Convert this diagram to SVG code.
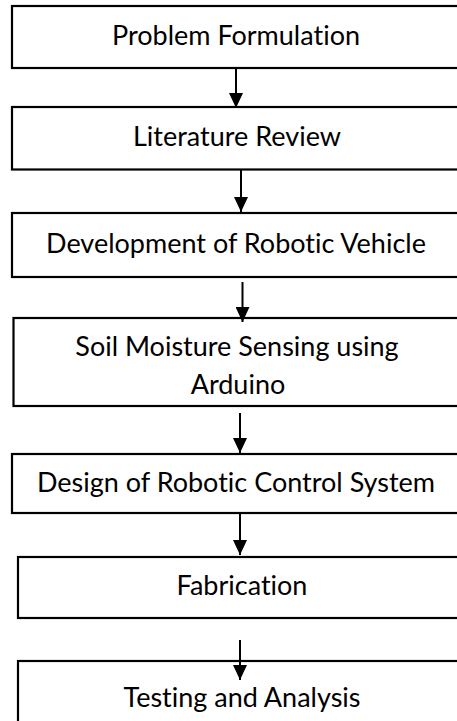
<svg xmlns="http://www.w3.org/2000/svg" width="457" height="721" viewBox="0 0 457 721">
  <style>
    .box { fill: #ffffff; stroke: #000000; stroke-width: 2.2; }
    .lbl { font-family: Lato, "Liberation Sans", sans-serif; font-size: 27px; fill: #000000; text-anchor: middle; font-variant-ligatures: none; }
    .edge { stroke: #000000; stroke-width: 2; fill: none; marker-end: url(#head); }
  </style>
  <defs>
    <!-- solid triangular arrowhead, tip at the end of the line -->
    <marker id="head" viewBox="0 0 15 14" refX="15" refY="7" markerWidth="15" markerHeight="14" markerUnits="userSpaceOnUse" orient="auto">
      <path d="M0,0 L15,7 L0,14 Z" fill="#000000"/>
    </marker>
  </defs>
  <rect width="457" height="721" fill="#ffffff"/>

  <g id="n1">
    <rect class="box" x="12" y="6" width="460" height="62"/>
    <text class="lbl" x="236" y="45">Problem Formulation</text>
  </g>
  <g id="n2">
    <rect class="box" x="12" y="107" width="460" height="62.5"/>
    <text class="lbl" x="237" y="146">Literature Review</text>
  </g>
  <g id="n3">
    <rect class="box" x="12" y="213" width="460" height="64"/>
    <text class="lbl" x="236" y="253">Development of Robotic Vehicle</text>
  </g>
  <g id="n4">
    <rect class="box" x="13.5" y="318" width="460" height="88"/>
    <text class="lbl" x="237" y="356">Soil Moisture Sensing using</text>
    <text class="lbl" x="238" y="394">Arduino</text>
  </g>
  <g id="n5">
    <rect class="box" x="12" y="454" width="460" height="59"/>
    <text class="lbl" x="236" y="492">Design of Robotic Control System</text>
  </g>
  <g id="n6">
    <rect class="box" x="18" y="557" width="460" height="61"/>
    <text class="lbl" x="242" y="595">Fabrication</text>
  </g>
  <g id="n7">
    <rect class="box" x="18" y="661" width="460" height="80"/>
    <text class="lbl" x="242" y="707">Testing and Analysis</text>
  </g>

  <g id="connectors">
    <line class="edge" x1="236" y1="69" x2="236" y2="108"/>
    <line class="edge" x1="241" y1="170" x2="241" y2="212"/>
    <line class="edge" x1="242.5" y1="282" x2="242.5" y2="322"/>
    <line class="edge" x1="240" y1="413" x2="240" y2="453"/>
    <line class="edge" x1="240" y1="514" x2="240" y2="555"/>
    <line class="edge" x1="240" y1="640" x2="240" y2="680"/>
  </g>
</svg>
